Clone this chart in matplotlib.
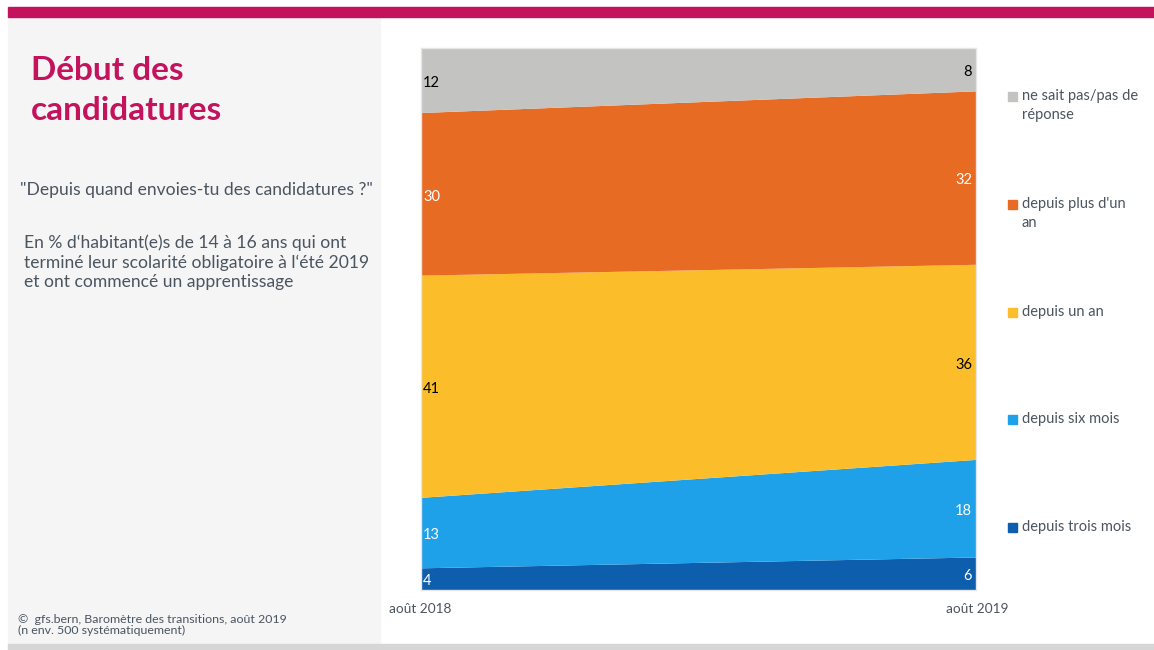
import numpy as np
import matplotlib
matplotlib.use('Agg')
import matplotlib.pyplot as plt
import matplotlib.patches as patches

plt.rcParams['font.family'] = ['Lato', 'DejaVu Sans']

# Data (bottom to top)
periods = ['août 2018', 'août 2019']
categories = ['depuis trois mois', 'depuis six mois', 'depuis un an',
              "depuis plus d'un\nan", 'ne sait pas/pas de\nréponse']
v_trois_mois = [4, 6]
v_six_mois = [13, 18]
v_un_an = [41, 36]
v_plus_un_an = [30, 32]
v_ne_sait_pas = [12, 8]

colors = ['#0D5EAD', '#1EA1E9', '#FBBE2A', '#E86B24', '#C3C3C1']
label_colors = ['white', 'white', 'black', 'white', 'black']

W, H = 1154, 650
fig = plt.figure(figsize=(W / 100, H / 100), dpi=100)


def fx(px):
    return px / W


def fy(py):
    return 1 - py / H


# Background decorations
fig.patches.append(patches.Rectangle((fx(8), fy(644)), fx(372), 628 / H,
                                     transform=fig.transFigure, color='#F5F5F5', zorder=0))
fig.patches.append(patches.Rectangle((fx(8), fy(17)), fx(1146), 10 / H,
                                     transform=fig.transFigure, color='#C4135D', zorder=1))
fig.patches.append(patches.Rectangle((fx(8), 0), fx(1146), 6 / H,
                                     transform=fig.transFigure, color='#D6D6D6', zorder=1))

# Left panel texts
text_col = '#4A5560'
fig.text(fx(31), fy(70), 'Début des', color='#C4135D', fontsize=24,
         fontweight='bold', va='center', ha='left')
fig.text(fx(31), fy(110), 'candidatures', color='#C4135D', fontsize=24,
         fontweight='bold', va='center', ha='left')
fig.text(fx(20), fy(190), '"Depuis quand envoies-tu des candidatures ?"', color=text_col,
         fontsize=12.6, va='center', ha='left')
fig.text(fx(24), fy(262), "En % d‘habitant(e)s de 14 à 16 ans qui ont\n"
         "terminé leur scolarité obligatoire à l‘été 2019\n"
         "et ont commencé un apprentissage", color=text_col,
         fontsize=12.6, va='center', ha='left', linespacing=1.25)
fig.text(fx(18), fy(625), "©  gfs.bern, Baromètre des transitions, août 2019\n"
         "(n env. 500 systématiquement)", color=text_col,
         fontsize=8.9, va='center', ha='left', linespacing=1.1)

# Chart
ax = fig.add_axes([fx(421), fy(590), 555 / W, 542 / H])
series = [v_trois_mois, v_six_mois, v_un_an, v_plus_un_an, v_ne_sait_pas]
x = np.arange(len(periods))
ax.stackplot(x, *series, colors=colors, linewidth=0)
ax.set_xlim(0, 1)
ax.set_ylim(0, 100)
ax.set_xticks([])
ax.set_yticks([])
for s in ax.spines.values():
    s.set_color('#E6E6E6')
    s.set_linewidth(1)

cum = np.cumsum(np.array(series), axis=0)
for i, s in enumerate(series):
    for j in range(len(periods)):
        mid = cum[i][j] - s[j] / 2 - 0.4
        if j == 0:
            ax.text(0.004, mid, str(s[j]), ha='left', va='center',
                    color=label_colors[i], fontsize=10.5)
        else:
            ax.text(0.993, mid, str(s[j]), ha='right', va='center',
                    color=label_colors[i], fontsize=10.5)

for j, p in enumerate(periods):
    fig.text(fx(420 + j * 557), fy(609), p, ha='center', va='center',
             color=text_col, fontsize=9.8)

# Legend (top to bottom)
leg_y = [96, 204, 312, 419, 527]
for k, yy in enumerate(leg_y):
    i = len(categories) - 1 - k
    fig.patches.append(patches.Rectangle((fx(1008), fy(yy + 5)), 9 / W, 9 / H,
                                         transform=fig.transFigure, color=colors[i]))
    if '\n' in categories[i]:
        fig.text(fx(1022), fy(yy - 7), categories[i], ha='left', va='top',
                 color=text_col, fontsize=10.5, linespacing=1.5)
    else:
        fig.text(fx(1022), fy(yy), categories[i], ha='left', va='center',
                 color=text_col, fontsize=10.5)

fig.savefig('out.png', dpi=100)
